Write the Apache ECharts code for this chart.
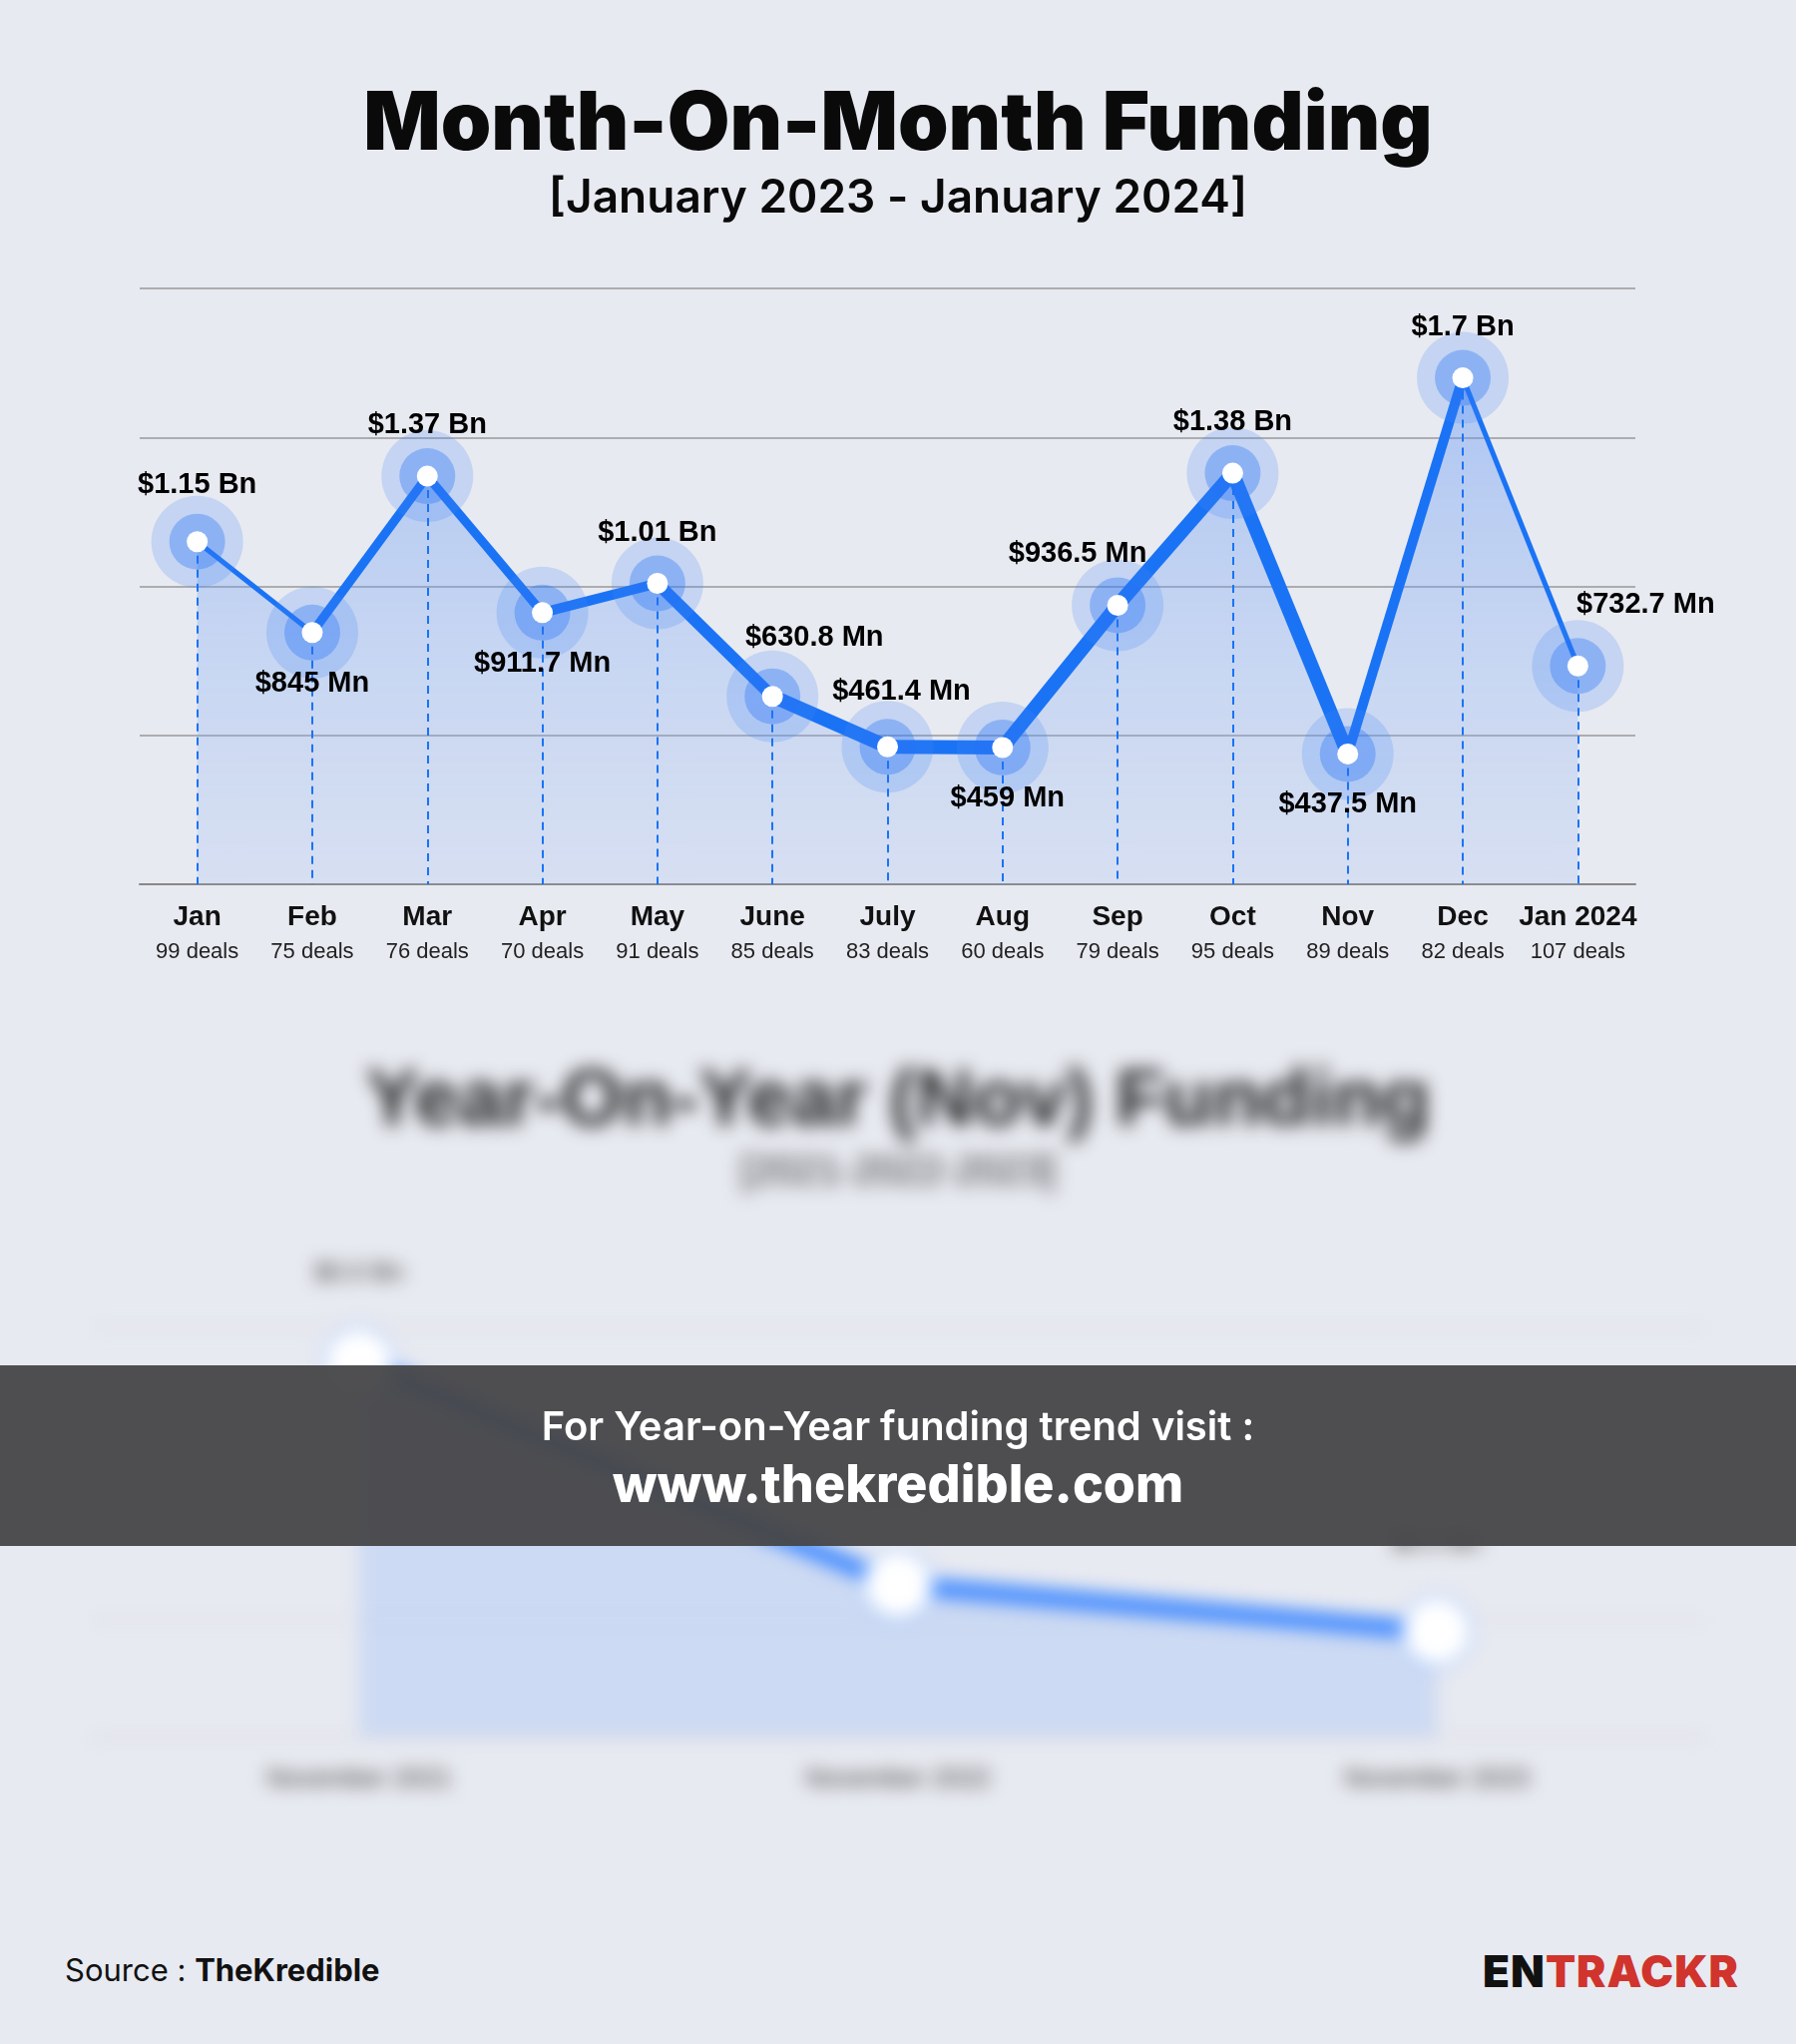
<!DOCTYPE html>
<html><head><meta charset="utf-8">
<script src="https://cdn.jsdelivr.net/npm/echarts@6/dist/echarts.min.js"></script>
<style>
body{margin:0;width:1800px;height:2048px;background:#e8eaf1;font-family:Inter,"Noto Sans",sans-serif;position:relative;overflow:hidden}
#c{position:absolute;left:0;top:0;width:1800px;height:1000px}
#blur{position:absolute;left:0;top:1030px;width:1800px;height:880px;filter:blur(9px)}
#band{position:absolute;left:0;top:1368px;width:1800px;height:181px;background:rgba(70,70,72,0.95);color:#fff;text-align:center}
#src{position:absolute;left:65px;top:1955px;font-size:31px;color:#111}
#logo{position:absolute;right:57px;top:1948px;font-size:44px;font-weight:900;letter-spacing:1px}
</style></head><body>
<div id="c"></div><div id="blur"></div>
<div id="band"><div style="font-size:40px;font-weight:600;margin-top:36px">For Year-on-Year funding trend visit :</div><div style="font-size:52px;font-weight:800;margin-top:2px">www.thekredible.com</div></div>
<div id="src">Source : <b>TheKredible</b></div>
<div id="logo"><span style="color:#111">EN</span><span style="color:#d0342c">TRACKR</span></div>
<script>
const months=['Jan','Feb','Mar','Apr','May','June','July','Aug','Sep','Oct','Nov','Dec','Jan 2024'];
const deals=[99,75,76,70,91,85,83,60,79,95,89,82,107];
const funding=[1150,845,1370,911.7,1010,630.8,461.4,459,936.5,1380,437.5,1700,732.7];
const labels=['$1.15 Bn','$845 Mn','$1.37 Bn','$911.7 Mn','$1.01 Bn','$630.8 Mn','$461.4 Mn','$459 Mn','$936.5 Mn','$1.38 Bn','$437.5 Mn','$1.7 Bn','$732.7 Mn'];
const labelPos=['top','bottom','top','bottom','top','top','top','bottom','top','top','bottom','top','top'];
const labelOff=[[0,-6],[0,0],[0,0],[0,0],[0,0],[42,-8],[14,-4],[5,0],[-40,0],[0,0],[0,0],[0,0],[68,-10]];
const segWidth=[2,5,9,9,10,12,14,14,14,14,14,10,5];
const blue='#1a73f5';
const series=[];
series.push({type:'line',data:funding,symbol:'none',lineStyle:{width:0},z:1,
 areaStyle:{color:new echarts.graphic.LinearGradient(0,0,0,1,[{offset:0,color:'rgba(80,140,245,0.55)'},{offset:1,color:'rgba(150,185,245,0.3)'}])},
 markLine:{symbol:'none',silent:true,label:{show:false},lineStyle:{color:blue,type:[8,6],width:2},
  data:funding.map((v,i)=>[{coord:[i,v]},{coord:[i,0]}])}});
for(let i=0;i<funding.length-1;i++){
 series.push({type:'line',symbol:'none',z:3,lineStyle:{color:blue,width:segWidth[i+1]},
  data:funding.map((v,j)=>(j===i||j===i+1)?v:null)});
}
series.push({type:'scatter',z:4,symbolSize:92,itemStyle:{color:'rgba(70,135,245,0.22)',opacity:1},data:funding});
series.push({type:'scatter',z:5,symbolSize:56,itemStyle:{color:'rgba(40,115,245,0.35)',opacity:1},data:funding});
series.push({type:'scatter',z:6,symbolSize:21,itemStyle:{color:'#fff',opacity:1},data:funding.map((v,i)=>({value:v,
 label:{show:true,position:labelPos[i],distance:26,formatter:labels[i],offset:labelOff[i],
  fontSize:29,fontWeight:600,color:'#000',opacity:1}}))});
const ch=echarts.init(document.getElementById('c'));
ch.setOption({
 title:{text:'Month-On-Month Funding',subtext:'[January 2023 - January 2024]',left:'center',top:80,itemGap:10,
  textStyle:{fontSize:81,fontWeight:900,color:'#0a0a0a',fontFamily:'Inter'},
  subtextStyle:{fontSize:46,fontWeight:600,color:'#0a0a0a',fontFamily:'Inter'}},
 grid:{left:140,right:161,top:289,height:597},
 xAxis:{type:'category',data:months,boundaryGap:true,axisTick:{show:false},axisLine:{lineStyle:{color:'#888',width:2}},
  axisLabel:{interval:0,margin:14,formatter:(v,i)=>'{a|'+v+'}\n{b|'+deals[i]+' deals}',
   rich:{a:{fontSize:28,fontWeight:700,color:'#111',lineHeight:38},b:{fontSize:22,color:'#222',lineHeight:32}}}},
 yAxis:{type:'value',min:0,max:2000,interval:500,axisLabel:{show:false},splitLine:{lineStyle:{color:'#999',width:1.5}}},
 series:series
});
const ch2=echarts.init(document.getElementById('blur'));
const yoyCats=['November 2021','November 2022','November 2023'];
const yoyVals=[3200,1300,900];
ch2.setOption({
 title:{text:'Year-On-Year (Nov) Funding',subtext:'[2021-2022-2023]',left:'center',top:30,
  textStyle:{fontSize:80,fontWeight:900,color:'#222'},subtextStyle:{fontSize:40,color:'#333'}},
 grid:{left:90,right:90,top:300,bottom:170},
 xAxis:{type:'category',data:yoyCats,axisTick:{show:false},axisLine:{lineStyle:{color:'#bbb'}},axisLabel:{fontSize:26,color:'#333',margin:30}},
 yAxis:{type:'value',min:0,max:3500,axisLabel:{show:false},splitLine:{lineStyle:{color:'#ccc'}}},
 series:[{type:'line',data:yoyVals,symbolSize:70,itemStyle:{color:'#5b9bff'},lineStyle:{width:18,color:'#3b86ff'},
  areaStyle:{color:'rgba(120,170,250,0.35)'},label:{show:true,position:'top',distance:40,fontSize:26,color:'#333',formatter:'$0.0 Bn'}}]
});
</script></body></html>
